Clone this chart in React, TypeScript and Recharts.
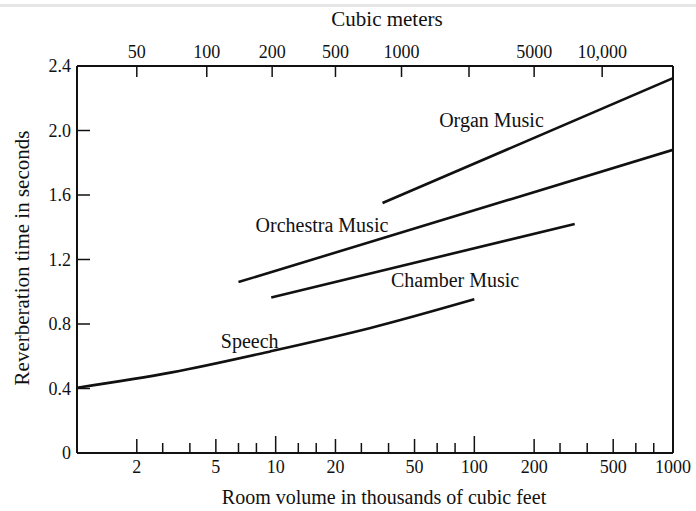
import React from 'react';
import { LineChart, Line, XAxis, YAxis, ReferenceLine, ReferenceDot } from 'recharts';

// x = room volume (thousands of cubic feet), y = reverberation time (s)
const speech = [
  { x: 1, y: 0.405 },
  { x: 3, y: 0.5 },
  { x: 9.4, y: 0.63 },
  { x: 30, y: 0.775 },
  { x: 100, y: 0.953 },
];
const orchestra = [
  { x: 6.5, y: 1.06 },
  { x: 1000, y: 1.88 },
];
const organ = [
  { x: 34.5, y: 1.55 },
  { x: 1000, y: 2.325 },
];
const chamber = [
  { x: 9.5, y: 0.965 },
  { x: 320, y: 1.42 },
];

const yTicks = [0, 0.4, 0.8, 1.2, 1.6, 2.0, 2.4];
const yTickLabels = ['0', '0.4', '0.8', '1.2', '1.6', '2.0', '2.4'];

const bottomMajor = [2, 5, 10, 20, 50, 100, 200, 500, 1000];
const bottomMajorLabels = ['2', '5', '10', '20', '50', '100', '200', '500', '1000'];
const bottomMinor = [2.7, 3.7, 6.5, 8, 13, 16, 27, 37, 65, 80, 270, 370, 650, 800];

// cubic-meter ticks, placed on the cubic-feet scale
const topTicks = [2, 4.5, 9.6, 20, 43, 94, 200, 440];
const topLabels = ['50', '100', '200', '500', '1000', '', '5000', '10,000'];

const curveLabels = [
  { name: 'Organ Music', x: 122, y: 2.065 },
  { name: 'Orchestra Music', x: 17.1, y: 1.413 },
  { name: 'Chamber Music', x: 80, y: 1.071 },
  { name: 'Speech', x: 7.4, y: 0.693 },
];

const FONT = '"Liberation Serif", "Times New Roman", serif';
const INK = '#111';

const BottomTick = (props: any) => {
  const { x, y, payload } = props;
  const v = payload.value;
  const i = bottomMajor.indexOf(v);
  const len = v === 10 || v === 100 ? 17 : i >= 0 ? 14 : 10;
  return (
    <g>
      {v < 1000 && <line x1={x} x2={x} y1={y} y2={y - len} stroke={INK} strokeWidth={1.5} />}
      {i >= 0 && (
        <text x={x} y={y + 20} textAnchor="middle" fontFamily={FONT} fontSize={18} fill={INK}>
          {bottomMajorLabels[i]}
        </text>
      )}
    </g>
  );
};

const TopTick = (props: any) => {
  const { x, y, payload } = props;
  const i = topTicks.indexOf(payload.value);
  return (
    <g>
      <line x1={x} x2={x} y1={y} y2={y + 11} stroke={INK} strokeWidth={1.5} />
      <text x={x} y={y - 8} textAnchor="middle" fontFamily={FONT} fontSize={18} fill={INK}>
        {topLabels[i]}
      </text>
    </g>
  );
};

const LeftTick = (props: any) => {
  const { x, y, payload } = props;
  const i = yTicks.indexOf(payload.value);
  const v = payload.value;
  return (
    <g>
      {v > 0 && v < 2.4 && <line x1={x} x2={x + 13} y1={y} y2={y} stroke={INK} strokeWidth={1.5} />}
      <text x={x - 6} y={y + 6} textAnchor="end" fontFamily={FONT} fontSize={18} fill={INK}>
        {yTickLabels[i]}
      </text>
    </g>
  );
};

const App: React.FC = () => {
  const lineProps = {
    dataKey: 'y',
    stroke: INK,
    strokeWidth: 2.6,
    dot: false,
    isAnimationActive: false,
    legendType: 'none' as const,
  };

  return (
    <div style={{ position: 'absolute', left: 0, top: 0, width: 696, height: 511, background: '#fff', fontFamily: FONT, color: INK }}>
      <div style={{ position: 'absolute', left: 0, top: 4, width: 696, height: 3, background: '#e6e6e6' }} />
      <LineChart width={696} height={511} margin={{ top: 65, right: 23, bottom: 57, left: 76 }}>
        <XAxis
          dataKey="x"
          type="number"
          scale="log"
          domain={[1, 1000]}
          allowDataOverflow
          ticks={[...bottomMajor, ...bottomMinor]}
          interval={0}
          height={1}
          tickSize={0}
          tickMargin={0}
          tickLine={false}
          tick={<BottomTick />}
          axisLine={{ stroke: INK, strokeWidth: 2 }}
        />
        <XAxis
          xAxisId="top"
          orientation="top"
          dataKey="x"
          type="number"
          scale="log"
          domain={[1, 1000]}
          allowDataOverflow
          ticks={topTicks}
          interval={0}
          height={1}
          tickSize={0}
          tickMargin={0}
          tickLine={false}
          tick={<TopTick />}
          axisLine={{ stroke: INK, strokeWidth: 2 }}
        />
        <YAxis
          type="number"
          domain={[0, 2.4]}
          ticks={yTicks}
          interval={0}
          width={1}
          tickSize={0}
          tickMargin={0}
          tickLine={false}
          tick={<LeftTick />}
          axisLine={{ stroke: INK, strokeWidth: 2 }}
        />
        <ReferenceLine x={1000} stroke={INK} strokeWidth={2} />
        <Line data={speech} {...lineProps} type="monotone" />
        <Line data={orchestra} {...lineProps} type="linear" />
        <Line data={organ} {...lineProps} type="linear" />
        <Line data={chamber} {...lineProps} type="linear" />
        {curveLabels.map((c) => (
          <ReferenceDot
            key={c.name}
            x={c.x}
            y={c.y}
            r={0}
            stroke="none"
            fill="none"
            label={{ value: c.name, position: 'center', fontFamily: FONT, fontSize: 20, fill: INK }}
          />
        ))}
      </LineChart>
      <div style={{ position: 'absolute', left: 0, width: 774, top: 7, textAlign: 'center', fontSize: 21 }}>
        Cubic meters
      </div>
      <div style={{ position: 'absolute', left: 0, width: 768, top: 486, textAlign: 'center', fontSize: 20 }}>
        Room volume in thousands of cubic feet
      </div>
      <div
        style={{
          position: 'absolute',
          left: 22,
          top: 258,
          fontSize: 21,
          whiteSpace: 'nowrap',
          transform: 'translate(-50%, -50%) rotate(-90deg)',
        }}
      >
        Reverberation time in seconds
      </div>
    </div>
  );
};

export default App;
